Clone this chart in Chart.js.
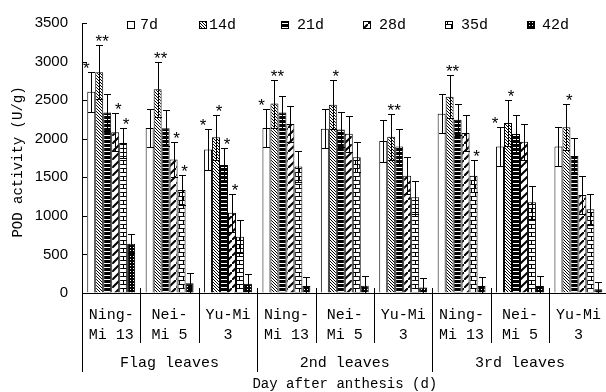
<!DOCTYPE html>
<html>
<head>
<meta charset="utf-8">
<script src="https://cdn.jsdelivr.net/npm/chart.js@4.4.1/dist/chart.umd.min.js"></script>
<style>
    html, body { margin: 0; padding: 0; background: #fff; overflow: hidden; }
    #wrap { width: 606px; height: 392px; overflow: hidden; }
    canvas { display: block; }
</style>
</head>
<body>
<div id="wrap"><canvas id="podChart" width="614" height="392"></canvas></div>
<script>
/* ---------- DATA ---------- */
const varieties = [
    ['Ning-', 'Mi 13'], ['Nei-', 'Mi 5'], ['Yu-Mi', '3'],
    ['Ning-', 'Mi 13'], ['Nei-', 'Mi 5'], ['Yu-Mi', '3'],
    ['Ning-', 'Mi 13'], ['Nei-', 'Mi 5'], ['Yu-Mi', '3']
];
const leafGroups  = ['Flag leaves', '2nd leaves', '3rd leaves'];
const seriesNames = ['7d', '14d', '21d', '28d', '35d', '42d'];
const yTicks      = [0, 500, 1000, 1500, 2000, 2500, 3000, 3500];

const pod7d  = [2610, 2140, 1860, 2140, 2130, 1970, 2325, 1900, 1900];
const pod14d = [2860, 2640, 2020, 2455, 2440, 2025, 2545, 2205, 2150];
const pod21d = [2340, 2135, 1660, 2340, 2120, 1900, 2245, 2060, 1775];
const pod28d = [2085, 1730, 1040, 2190, 2065, 1520, 2075, 1960, 1270];
const pod35d = [1945, 1335,  730, 1640, 1760, 1240, 1520, 1175, 1085];
const pod42d = [ 640,  125,  120,   90,   95,   70,   92,   92,   48];

const err7d  = [260, 250, 265, 250, 250, 275, 255, 250, 250];
const err14d = [350, 360, 290, 310, 320, 300, 275, 295, 295];
const err21d = [245, 235, 225, 215, 225, 230, 200, 245, 230];
const err28d = [245, 230, 245, 230, 235, 240, 230, 230, 250];
const err35d = [195, 190, 210, 195, 195, 215, 205, 210, 200];
const err42d = [125, 135, 128, 122, 122, 130, 112, 122,  95];

const sig7d  = ['*', '', '*', '*', '', '', '', '*', ''];
const sig14d = ['**', '**', '*', '**', '*', '**', '**', '*', '*'];
const sig21d = ['', '', '*', '', '', '', '', '', ''];
const sig28d = ['*', '*', '*', '', '', '', '', '', ''];
const sig35d = ['*', '*', '', '', '', '', '*', '', ''];
const sig42d = ['', '', '', '', '', '', '', '', ''];

/* ---------- PATTERNS ---------- */
const MONO = '"Liberation Mono", monospace';

function tile(w, h, draw) {
    const c = document.createElement('canvas');
    c.width = w; c.height = h;
    const t = c.getContext('2d');
    t.fillStyle = '#fff'; t.fillRect(0, 0, w, h);
    t.fillStyle = '#000'; t.strokeStyle = '#000';
    draw(t);
    return c;
}

function makePatterns(ctx) {
    const p7 = '#ffffff';
    const p14 = ctx.createPattern(tile(3, 3, t => {
        for (let i = 0; i < 3; i++) t.fillRect(i, i, 1, 1);
    }), 'repeat');
    const p21 = ctx.createPattern(tile(2, 4, t => {
        t.fillRect(0, 0, 2, 3);
    }), 'repeat');
    const p28 = ctx.createPattern(tile(8, 8, t => {
        t.lineWidth = 2;
        t.beginPath();
        t.moveTo(-1, 9); t.lineTo(9, -1);
        t.stroke();
    }), 'repeat');
    const p35 = ctx.createPattern(tile(8, 8, t => {
        t.fillRect(0, 0, 8, 1);
        t.fillRect(0, 4, 8, 1);
        t.fillRect(3, 0, 1, 4);
        t.fillRect(7, 4, 1, 4);
    }), 'repeat');
    const p42 = ctx.createPattern(tile(3, 3, t => {
        t.fillRect(0, 0, 3, 3);
        t.fillStyle = '#fff';
        t.fillRect(1, 1, 1, 1);
    }), 'repeat');
    return [p7, p14, p21, p28, p35, p42];
}

/* ---------- EXTRAS PLUGIN ---------- */
// Layout for the in-plot legend (box x, text x)
const legendBoxX  = [127, 199, 281, 363, 445, 527];
const legendTextX = [140, 209, 297, 379, 461, 542];

const extrasPlugin = {
    id: 'extras',
    afterDatasetsDraw(chart) {
        const { ctx, scales: { y } } = chart;
        ctx.save();
        ctx.strokeStyle = '#000';
        ctx.fillStyle = '#000';
        ctx.lineWidth = 1;
        ctx.font = '17px "Liberation Sans", sans-serif';
        ctx.textAlign = 'center';
        ctx.textBaseline = 'middle';
        chart.data.datasets.forEach((ds, i) => {
            const meta = chart.getDatasetMeta(i);
            meta.data.forEach((bar, j) => {
                const v = ds.data[j], e = ds.errors[j];
                const bx = Math.round(bar.x) + 0.5;
                const yt = Math.round(y.getPixelForValue(v + e)) + 0.5;
                const yb = Math.round(y.getPixelForValue(Math.max(0, v - e))) + 0.5;
                ctx.beginPath();
                ctx.moveTo(bx, yt); ctx.lineTo(bx, yb);
                ctx.moveTo(bx - 3.5, yt); ctx.lineTo(bx + 3.5, yt);
                ctx.moveTo(bx - 3.5, yb); ctx.lineTo(bx + 3.5, yb);
                ctx.stroke();
                const s = ds.stars[j];
                if (s) ctx.fillText(s, bar.x + (i === 0 ? -5 : 3), yt - 3);
            });
        });
        ctx.restore();
    },
    afterDraw(chart) {
        const { ctx, chartArea: a, scales: { y } } = chart;
        const cw = (a.right - a.left) / varieties.length;
        ctx.save();
        ctx.strokeStyle = '#000';
        ctx.fillStyle = '#000';
        ctx.lineWidth = 1;

        // inward y ticks
        ctx.beginPath();
        y.ticks.forEach(t => {
            const py = Math.round(y.getPixelForValue(t.value)) + 0.5;
            ctx.moveTo(a.left, py); ctx.lineTo(a.left + 5, py);
        });
        ctx.stroke();

        // category separators
        ctx.beginPath();
        for (let k = 0; k <= varieties.length; k++) {
            const px = Math.round(a.left + k * cw) + 0.5;
            const long = k % 3 === 0;
            ctx.moveTo(px, k === 0 ? a.bottom : a.bottom - 5);
            ctx.lineTo(px, long ? 372 : 343);
        }
        ctx.stroke();

        // group labels
        ctx.font = '15px ' + MONO;
        ctx.textAlign = 'center';
        ctx.textBaseline = 'middle';
        leafGroups.forEach((g, i) => {
            ctx.fillText(g, a.left + (3 * i + 1.5) * cw, 363);
        });
        ctx.font = '14px ' + MONO;
        ctx.fillText('Day after anthesis (d)', (a.left + a.right) / 2, 384);

        // y title
        ctx.save();
        ctx.translate(18, (a.top + a.bottom) / 2 + 4);
        ctx.rotate(-Math.PI / 2);
        ctx.fillText('POD activity (U/g)', 0, 0);
        ctx.restore();

        // legend
        ctx.font = '15px ' + MONO;
        ctx.textAlign = 'left';
        chart.data.datasets.forEach((ds, i) => {
            ctx.fillStyle = ds.backgroundColor;
            ctx.fillRect(legendBoxX[i], 21, 8, 8);
            ctx.strokeRect(legendBoxX[i] + 0.5, 21.5, 7, 7);
            ctx.fillStyle = '#000';
            ctx.fillText(seriesNames[i], legendTextX[i], 25);
        });
        ctx.restore();
    }
};

/* ---------- CHART ---------- */
document.addEventListener('DOMContentLoaded', function () {
    const canvas = document.getElementById('podChart');
    const ctx = canvas.getContext('2d');
    const patterns = makePatterns(ctx);

    const values = [pod7d, pod14d, pod21d, pod28d, pod35d, pod42d];
    const errors = [err7d, err14d, err21d, err28d, err35d, err42d];
    const stars  = [sig7d, sig14d, sig21d, sig28d, sig35d, sig42d];

    Chart.defaults.color = '#000';
    Chart.defaults.font.family = MONO;

    new Chart(canvas, {
        type: 'bar',
        data: {
            labels: varieties,
            datasets: seriesNames.map((name, i) => ({
                label: name,
                data: values[i],
                errors: errors[i],
                stars: stars[i],
                backgroundColor: patterns[i],
                borderColor: '#000',
                borderWidth: 1,
                barPercentage: 1.0,
                categoryPercentage: 0.82,
            }))
        },
        options: {
            responsive: false,
            animation: false,
            devicePixelRatio: 1,
            layout: { padding: { left: 0, top: 13, right: 2, bottom: 0 } },
            plugins: {
                legend: { display: false },
                tooltip: { enabled: false }
            },
            scales: {
                x: {
                    grid: { drawOnChartArea: false, drawTicks: false },
                    border: { color: '#000', width: 1 },
                    ticks: {
                        color: '#000',
                        padding: 13,
                        maxRotation: 0,
                        autoSkip: false,
                        font: { family: MONO, size: 15, lineHeight: 1.27 }
                    },
                    afterFit: s => { s.height = 99; }
                },
                y: {
                    min: 0,
                    max: 3500,
                    grid: { drawOnChartArea: false, drawTicks: false },
                    border: { color: '#000', width: 1 },
                    ticks: {
                        color: '#000',
                        padding: 14,
                        font: { family: '"Liberation Sans", sans-serif', size: 15 },
                        callback: v => String(v)
                    },
                    afterBuildTicks: s => { s.ticks = yTicks.map(v => ({ value: v })); },
                    afterFit: s => { s.width = 82; }
                }
            }
        },
        plugins: [extrasPlugin]
    });
});
</script>
</body>
</html>
